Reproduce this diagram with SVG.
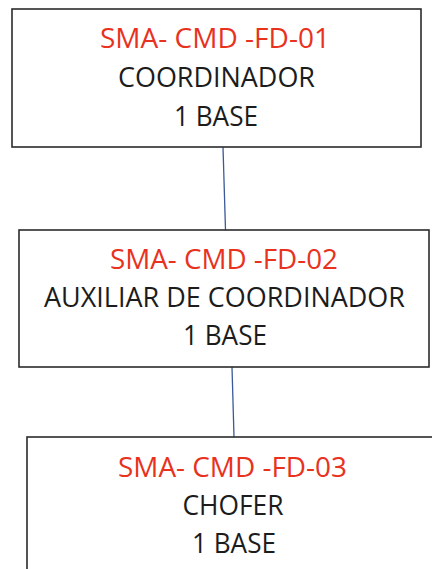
<svg xmlns="http://www.w3.org/2000/svg" width="432" height="569" viewBox="0 0 432 569">
<style>
.box{fill:#fff;stroke:#2b2b2b;stroke-width:1.6}
.t{font-family:"Open Sans","Noto Sans","Liberation Sans",sans-serif;font-size:26.5px;text-anchor:middle}
.code{fill:#e8321e}
.lbl{fill:#1c1c1c}
.conn{stroke:#3c5a98;stroke-width:1.3;fill:none}
</style>
<rect width="432" height="569" fill="#fff"/>
<g id="connectors">
<line class="conn" x1="223" y1="147" x2="225.5" y2="230"/>
<line class="conn" x1="232" y1="367" x2="234" y2="437"/>
</g>
<g id="node1">
<rect class="box" x="12" y="9" width="409" height="138"/>
<text class="t code" x="215" y="48" textLength="230" lengthAdjust="spacingAndGlyphs">SMA- CMD -FD-01</text>
<text class="t lbl" x="216.5" y="87" textLength="197" lengthAdjust="spacingAndGlyphs">COORDINADOR</text>
<text class="t lbl" x="216" y="126" textLength="84" lengthAdjust="spacingAndGlyphs">1 BASE</text>
</g>
<g id="node2">
<rect class="box" x="19" y="230" width="410" height="137"/>
<text class="t code" x="224" y="269" textLength="228" lengthAdjust="spacingAndGlyphs">SMA- CMD -FD-02</text>
<text class="t lbl" x="224.5" y="307" textLength="361" lengthAdjust="spacingAndGlyphs">AUXILIAR DE COORDINADOR</text>
<text class="t lbl" x="225" y="345" textLength="84" lengthAdjust="spacingAndGlyphs">1 BASE</text>
</g>
<g id="node3">
<rect class="box" x="27" y="437" width="412" height="140"/>
<text class="t code" x="232.5" y="477" textLength="229" lengthAdjust="spacingAndGlyphs">SMA- CMD -FD-03</text>
<text class="t lbl" x="233" y="515" textLength="101" lengthAdjust="spacingAndGlyphs">CHOFER</text>
<text class="t lbl" x="234" y="553" textLength="84" lengthAdjust="spacingAndGlyphs">1 BASE</text>
</g>
</svg>
